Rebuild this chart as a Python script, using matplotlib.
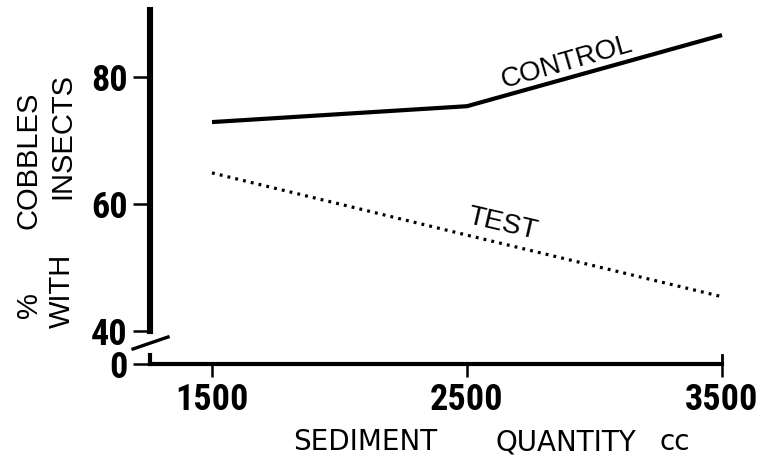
import matplotlib
matplotlib.use("Agg")
import matplotlib.pyplot as plt
from matplotlib.lines import Line2D

# data
sediment_cc = [1500, 2500, 3500]
control_pct = [72.9, 75.4, 86.6]
test_pct = [64.9, 55.1, 45.4]
y_ticks = [40, 60, 80]
x_ticks = [1500, 2500, 3500]

W, H = 760, 457
fig = plt.figure(figsize=(W / 100, H / 100), dpi=100)


def box(x0, y0, x1, y1):
    # pixel box (top-left origin) -> figure fraction
    return [x0 / W, 1 - y1 / H, (x1 - x0) / W, (y1 - y0) / H]


narrow = ["Liberation Sans Narrow", "DejaVu Sans Condensed",
          "Roboto Condensed", "Liberation Sans"]
tick_font = dict(family=narrow, weight="bold", size=26)
xlim = (1257, 3500)

# upper part of the broken axis (40 .. ~90 %)
ax = fig.add_axes(box(150, 10, 722, 331))
ax.set_xlim(*xlim)
ax.set_ylim(40, 90.55)
for s in ["top", "right", "bottom"]:
    ax.spines[s].set_visible(False)
ax.spines["left"].set_linewidth(4.4)
ax.set_xticks([])
ax.set_yticks(y_ticks)
ax.set_yticklabels([str(v) for v in y_ticks], fontdict=tick_font)
ax.tick_params(axis="y", length=12, width=1.8, pad=4)

ax.plot(sediment_cc, control_pct, color="black", lw=3.0,
        solid_capstyle="butt", clip_on=False)
ax.plot(sediment_cc, test_pct, color="black", lw=2.3,
        linestyle=(0, (0.9, 1.6)), clip_on=False)

ax.text(2892, 82.3, "CONTROL", rotation=16, rotation_mode="anchor",
        ha="center", va="center", family="Liberation Sans", fontsize=20)
ax.text(2641, 56.9, "TEST", rotation=-13, rotation_mode="anchor",
        ha="center", va="center", family="Liberation Sans", fontsize=20)

# axis break slash
ax.add_line(Line2D([-0.0297, 0.0315], [-0.056, -0.0187], color="black",
                   lw=2.4, transform=ax.transAxes, clip_on=False))

# lower part: zero and the x axis
bx = fig.add_axes(box(150, 355, 722, 364))
bx.set_xlim(*xlim)
bx.set_ylim(0, 1)
bx.spines["top"].set_visible(False)
bx.spines["bottom"].set_linewidth(3.0)
bx.spines["left"].set_linewidth(3.0)
bx.spines["right"].set_linewidth(2.0)
bx.set_yticks([0])
bx.set_yticklabels(["0"], fontdict=tick_font)
bx.tick_params(axis="y", length=12, width=1.8, pad=4)
bx.set_xticks(x_ticks)
bx.set_xticklabels([str(v) for v in x_ticks], fontdict=tick_font)
bx.tick_params(axis="x", length=9, width=1.8, pad=4)

# axis titles
lab = dict(family="Liberation Sans", fontsize=21, ha="center", va="center",
           rotation=90)
fig.text(29 / W, 1 - 305 / H, "%", **lab)
fig.text(29 / W, 1 - 160 / H, "COBBLES", **lab)
fig.text(62 / W, 1 - 291 / H, "WITH", **lab)
fig.text(62 / W, 1 - 136 / H, "INSECTS", **lab)

xl = dict(family="DejaVu Sans", fontsize=20, ha="center", va="baseline")
fig.text(365 / W, 1 - 450 / H, "SEDIMENT", **xl)
fig.text(566 / W, 1 - 450 / H, "QUANTITY", **xl)
fig.text(675 / W, 1 - 450 / H, "cc", **xl)

fig.savefig("out.png", dpi=100)
